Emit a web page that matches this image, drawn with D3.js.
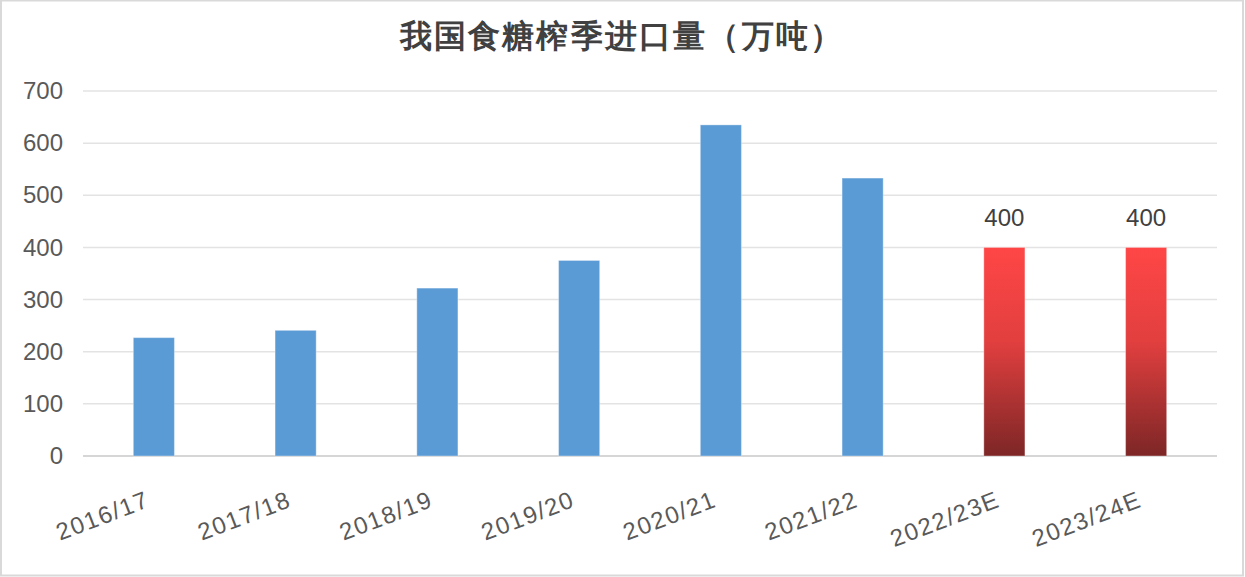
<!DOCTYPE html>
<html>
<head>
<meta charset="utf-8">
<script src="https://cdn.jsdelivr.net/npm/d3@7"></script>
<style>
  body { margin: 0; background: #fff; }
  svg { display: block; }
  text { font-family: "Liberation Sans", Arial, sans-serif; }
</style>
</head>
<body>
<div id="chart"></div>
<script>
var svgWidth = 1245;
var svgHeight = 577;

// data
var seasons = ["2016/17", "2017/18", "2018/19", "2019/20", "2020/21", "2021/22", "2022/23E", "2023/24E"];
var imports = [227, 241, 322, 375, 635, 533, 400, 400];
var isForecast = [false, false, false, false, false, false, true, true];
var yTicks = [0, 100, 200, 300, 400, 500, 600, 700];

var margin = { top: 91, right: 28, bottom: 121, left: 83 };
var plotRight = svgWidth - margin.right;
var plotBottom = svgHeight - margin.bottom;

var svg = d3.select("#chart")
  .append("svg")
  .attr("width", svgWidth)
  .attr("height", svgHeight);

// outer border
svg.append("rect")
  .attr("x", 1).attr("y", 0.5)
  .attr("width", svgWidth - 3).attr("height", svgHeight - 2)
  .attr("fill", "#fff")
  .attr("stroke", "#d9d9d9")
  .attr("stroke-width", 2);

var defs = svg.append("defs");
var grad = defs.append("linearGradient")
  .attr("id", "redGrad")
  .attr("x1", 0).attr("y1", 0).attr("x2", 0).attr("y2", 1);
grad.append("stop").attr("offset", "0%").attr("stop-color", "#ff4646");
grad.append("stop").attr("offset", "45%").attr("stop-color", "#e23f3f");
grad.append("stop").attr("offset", "100%").attr("stop-color", "#7d2626");

var x = d3.scaleBand()
  .domain(seasons)
  .range([margin.left, plotRight])
  .paddingInner(0.71)
  .paddingOuter(0.355);

var y = d3.scaleLinear()
  .domain([0, 700])
  .range([plotBottom, margin.top]);

// gridlines
svg.append("g")
  .selectAll("line")
  .data(yTicks)
  .enter()
  .append("line")
  .attr("x1", margin.left)
  .attr("x2", plotRight)
  .attr("y1", d => y(d))
  .attr("y2", d => y(d))
  .attr("stroke", d => d === 0 ? "#d6d6d6" : "#e3e3e3")
  .attr("stroke-width", d => d === 0 ? 2 : 1.5);

// y axis labels
var yAxis = d3.axisLeft(y).tickValues(yTicks).tickSize(0).tickPadding(0);
var yg = svg.append("g")
  .attr("transform", `translate(${margin.left - 20}, 0)`)
  .call(yAxis);
yg.select(".domain").remove();
yg.selectAll("text")
  .attr("font-size", 24)
  .attr("fill", "#595959")
  .attr("font-family", "Liberation Sans, Arial, sans-serif");

var data = seasons.map((s, i) => ({ season: s, value: imports[i], forecast: isForecast[i] }));

// bars
svg.append("g")
  .selectAll("rect")
  .data(data)
  .enter()
  .append("rect")
  .attr("x", d => x(d.season))
  .attr("y", d => y(d.value))
  .attr("width", x.bandwidth())
  .attr("height", d => y(0) - y(d.value))
  .attr("fill", d => d.forecast ? "url(#redGrad)" : "#5b9bd5")
  .attr("stroke", "rgba(255,255,255,0.35)")
  .attr("stroke-width", 1);

// data labels on forecast bars
svg.append("g")
  .selectAll("text")
  .data(data.filter(d => d.forecast))
  .enter()
  .append("text")
  .attr("x", d => x(d.season) + x.bandwidth() / 2)
  .attr("y", d => y(d.value) - 21)
  .attr("text-anchor", "middle")
  .attr("font-size", 24)
  .attr("fill", "#404040")
  .text(d => d.value);

// x axis labels, rotated
var xAxis = d3.axisBottom(x).tickSize(0).tickPadding(0);
var xg = svg.append("g")
  .attr("transform", `translate(0, ${plotBottom})`)
  .call(xAxis);
xg.select(".domain").remove();
xg.selectAll("text")
  .attr("font-size", 24)
  .attr("fill", "#595959")
  .attr("font-family", "Liberation Sans, Arial, sans-serif")
  .attr("letter-spacing", 1.5)
  .attr("text-anchor", "end")
  .attr("dy", null)
  .attr("y", 0)
  .attr("transform", "translate(-3, 50) rotate(-21)");

// title
svg.append("text")
  .attr("x", 622)
  .attr("y", 47)
  .attr("text-anchor", "middle")
  .attr("font-family", "Noto Sans CJK SC, sans-serif")
  .attr("font-weight", "bold")
  .attr("font-size", 32)
  .attr("letter-spacing", 2.2)
  .attr("fill", "#404040")
  .text("我国食糖榨季进口量（万吨）");
</script>
</body>
</html>
